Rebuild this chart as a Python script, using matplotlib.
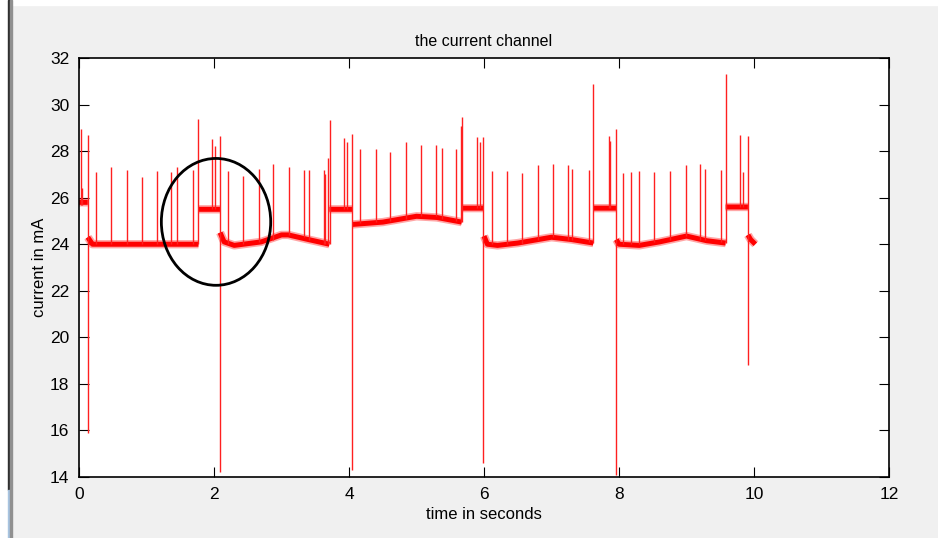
import numpy as np
import matplotlib
matplotlib.use("Agg")
import matplotlib.pyplot as plt
from matplotlib.patches import Ellipse, Rectangle

plt.rcParams["font.family"] = ["Liberation Sans", "DejaVu Sans"]

# baseline of the signal, segments separated by nan
base_t = [0.0, 0.13, np.nan,
          0.13, 0.2, 1.0, 1.77, np.nan,
          1.77, 2.09, np.nan,
          2.09, 2.15, 2.3, 2.7, 3.0, 3.1, 3.4, 3.71, np.nan,
          3.71, 4.05, np.nan,
          4.05, 4.5, 5.0, 5.3, 5.67, np.nan,
          5.67, 6.0, np.nan,
          6.0, 6.05, 6.2, 6.5, 7.0, 7.3, 7.62, np.nan,
          7.62, 7.96, np.nan,
          7.96, 8.0, 8.3, 8.6, 9.0, 9.3, 9.58, np.nan,
          9.58, 9.91, np.nan,
          9.91, 9.95, 10.02]
base_v = [25.8, 25.8, np.nan,
          24.3, 24.0, 24.0, 24.0, np.nan,
          25.5, 25.5, np.nan,
          24.5, 24.1, 23.95, 24.1, 24.4, 24.4, 24.2, 24.0, np.nan,
          25.5, 25.5, np.nan,
          24.85, 24.95, 25.2, 25.15, 24.95, np.nan,
          25.55, 25.55, np.nan,
          24.35, 24.0, 23.95, 24.05, 24.3, 24.2, 24.05, np.nan,
          25.55, 25.55, np.nan,
          24.2, 24.0, 23.95, 24.1, 24.35, 24.15, 24.05, np.nan,
          25.6, 25.6, np.nan,
          24.4, 24.2, 24.0]

# spikes: time, top, bottom
spike_t = [0.03, 0.05, 0.13, 0.25, 0.47, 0.71, 0.93, 1.15, 1.37, 1.45, 1.69,
           1.76, 1.97, 2.01, 2.09, 2.20, 2.43, 2.67, 2.88, 3.11, 3.34, 3.40,
           3.63, 3.65, 3.69, 3.72, 3.93, 3.97, 4.04, 4.16, 4.40, 4.60, 4.84,
           5.06, 5.29, 5.38, 5.58, 5.66, 5.68, 5.89, 5.94, 5.99, 6.12, 6.34,
           6.56, 6.80, 7.02, 7.24, 7.31, 7.55, 7.62, 7.85, 7.87, 7.96, 8.06,
           8.18, 8.29, 8.52, 8.76, 8.99, 9.20, 9.27, 9.51, 9.58, 9.79, 9.83,
           9.91]
spike_top = [28.95, 26.4, 28.7, 27.1, 27.3, 27.2, 26.9, 27.15, 27.1, 27.3, 27.2,
             29.4, 28.5, 28.2, 28.65, 27.15, 26.95, 27.25, 27.45, 27.3, 27.2, 27.2,
             27.2, 27.0, 27.7, 29.35, 28.55, 28.4, 28.75, 28.1, 28.1, 27.95, 28.4,
             28.25, 28.25, 28.15, 28.1, 29.1, 29.45, 28.6, 28.4, 28.6, 27.15, 27.15,
             27.05, 27.4, 27.45, 27.4, 27.25, 27.2, 30.9, 28.65, 28.45, 28.95, 27.05,
             27.1, 27.15, 27.1, 27.15, 27.4, 27.45, 27.25, 27.2, 31.3, 28.7, 27.1,
             28.65]
spike_bottom = [25.7, 25.7, 15.9, 24.0, 24.0, 24.0, 24.0, 24.0, 24.0, 24.0, 24.0,
                24.0, 25.5, 25.5, 14.2, 24.0, 24.0, 24.1, 24.2, 24.4, 24.3, 24.2,
                24.0, 24.0, 24.0, 24.0, 25.5, 25.5, 14.3, 24.9, 24.95, 25.0, 25.1,
                25.2, 25.2, 25.1, 25.0, 24.95, 24.95, 25.55, 25.55, 14.6, 24.0, 24.0,
                24.0, 24.2, 24.3, 24.2, 24.2, 24.1, 24.05, 25.55, 25.55, 14.1, 24.0,
                24.0, 24.0, 24.1, 24.2, 24.35, 24.2, 24.2, 24.1, 24.05, 25.6, 25.6,
                18.8]

x_ticks = [0, 2, 4, 6, 8, 10, 12]
y_ticks = [14, 16, 18, 20, 22, 24, 26, 28, 30, 32]

W, H = 938, 538
fig = plt.figure(figsize=(W / 100, H / 100), dpi=100, facecolor="#f0f0f0")

# window border bits of the screenshot
fig.add_artist(Rectangle((0, 0), 8 / W, 1, transform=fig.transFigure,
                         color="white", zorder=-1))
fig.add_artist(Rectangle((0, 1 - 5 / H), 1, 5 / H, transform=fig.transFigure,
                         color="white", zorder=-1))
fig.add_artist(Rectangle((7.5 / W, 48 / H), 2.5 / W, 1 - 48 / H,
                         transform=fig.transFigure, color="#303030", zorder=0))
fig.add_artist(Rectangle((7.5 / W, 0), 2.5 / W, 48 / H,
                         transform=fig.transFigure, color="#a8c4e0", zorder=0))
fig.add_artist(Rectangle((10 / W, 0), 1.5 / W, 1, transform=fig.transFigure,
                         color="#909090", zorder=0))

ax = fig.add_axes([79 / W, 61 / H, 810 / W, 419 / H])
ax.set_facecolor("white")

# noisy band: soft halo plus solid core
ax.plot(base_t, base_v, color="red", lw=6.0, alpha=0.35, solid_capstyle="butt")
ax.plot(base_t, base_v, color="red", lw=3.6, solid_capstyle="butt")
ax.vlines(spike_t, spike_bottom, spike_top, color="#ff2020", lw=1.0)

# annotation circle
ax.add_patch(Ellipse((2.03, 24.96), 1.62, 5.45, fill=False,
                     edgecolor="black", lw=2.0, zorder=5))

ax.set_xlim(0, 12)
ax.set_ylim(14, 32)
ax.set_xticks(x_ticks)
ax.set_yticks(y_ticks)
ax.tick_params(direction="in", length=7, width=0.8, top=True, right=True,
               labelsize=12.5, pad=7, colors="black")
for s in ax.spines.values():
    s.set_linewidth(1.2)

ax.set_title("the current channel", fontsize=11.5, pad=9)
ax.set_xlabel("time in seconds", fontsize=12, labelpad=4)
ax.set_ylabel("current in mA", fontsize=12, labelpad=2)

fig.savefig("out.png", dpi=100, facecolor=fig.get_facecolor())
